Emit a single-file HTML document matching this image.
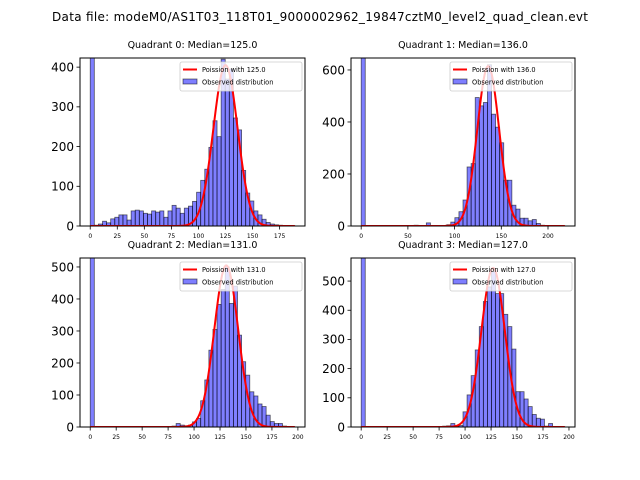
<!DOCTYPE html>
<html><head><meta charset="utf-8"><style>
body{margin:0;background:#fff;}
svg{display:block;font-family:"DejaVu Sans","Liberation Sans",sans-serif;}
</style></head><body>
<svg id="fig" width="640" height="480" viewBox="0 0 640 480">
<rect width="640" height="480" fill="#fff"/>
<text x="320" y="21" font-size="12" text-anchor="middle" textLength="536">Data file: modeM0/AS1T03_118T01_9000002962_19847cztM0_level2_quad_clean.evt</text>
</svg>
<script>
const medians = [125.0, 136.0, 131.0, 127.0];
const dataMax = [189, 218, 197, 196];
const curvePeak = [405, 615, 505, 545];
const counts0 = [1000,2,5,12,8,18,22,28,28,15,38,40,38,32,30,38,35,38,22,38,52,45,32,45,50,62,85,115,143,198,265,225,420,370,395,272,242,140,83,63,38,28,17,9,5,3,2,1,1,1];
const counts1 = [1000,0,0,0,0,0,0,0,0,0,0,0,0,3,0,0,12,0,0,0,0,5,15,32,55,100,227,240,494,462,475,620,430,380,320,176,176,80,65,30,30,20,25,10,3,2,1,1,0,1];
const counts2 = [1000,0,0,0,0,0,0,0,0,0,0,0,0,0,0,0,0,0,0,0,3,11,6,4,6,16,27,82,147,240,305,383,430,500,386,440,287,204,162,110,97,72,64,37,17,11,11,3,0,1];
const counts3 = [1000,0,0,0,0,0,0,0,0,0,0,0,0,0,0,0,0,2,0,0,3,4,12,3,5,52,110,176,264,344,430,480,532,457,457,386,344,267,121,121,96,70,43,30,27,3,12,2,0,1];
const allCounts = [counts0, counts1, counts2, counts3];
const yTicks0 = [0,100,200,300,400];
const yTicks1 = [0,200,400,600];
const yTicks2 = [0,100,200,300,400,500];
const yTicks3 = [0,100,200,300,400,500];
const allYTicks = [yTicks0, yTicks1, yTicks2, yTicks3];
const xTicks0 = [0,25,50,75,100,125,150,175];
const xTicks1 = [0,50,100,150,200];
const xTicks2 = [0,25,50,75,100,125,150,175,200];
const xTicks3 = [0,25,50,75,100,125,150,175,200];
const allXTicks = [xTicks0, xTicks1, xTicks2, xTicks3];
const yMax = [423, 646, 528, 579];

const NS = 'http://www.w3.org/2000/svg';
const svg = document.getElementById('fig');
function mk(tag, attrs, parent){const e=document.createElementNS(NS,tag);for(const k in attrs)e.setAttribute(k,attrs[k]);(parent||svg).appendChild(e);return e;}

const rects = [[80,58,305,226],[351,58,575,226],[80,258,305,427],[351,258,575,427]];
for(let q=0;q<4;q++){
  const [L,T,R,B]=rects[q];
  const mx=dataMax[q], xmin=-0.05*mx, xmax=mx*1.05;
  const sx=v=>L+(v-xmin)/(xmax-xmin)*(R-L);
  const sy=v=>B-v/yMax[q]*(B-T);
  const g=mk('g',{});
  
  
  const cp=mk('clipPath',{id:'cp'+q},g);
  mk('rect',{x:L,y:T,width:R-L,height:B-T},cp);
  const t=mk('text',{x:(L+R)/2,y:T-10,'font-size':9.5,'text-anchor':'middle'},g);
  t.textContent='Quadrant '+q+': Median='+medians[q].toFixed(1);
  
  
  const bars=mk('g',{'clip-path':'url(#cp'+q+')'},g);
  const c=allCounts[q], n=c.length, bw=mx/n;
  for(let k=0;k<n;k++){
    if(c[k]<=0)continue;
    const x0=sx(k*bw), x1=sx((k+1)*bw), y=sy(c[k]);
    const r=mk('rect',{x:x0,y:y,width:x1-x0,height:B-y,fill:'rgba(0,0,255,0.5)',stroke:'rgba(0,0,0,0.6)','stroke-width':0.8},bars);
    
    
  }
  const lam=medians[q];let d='';
  for(let x=0;x<=mx;x+=0.5){
    const v=curvePeak[q]*Math.exp(-(x-lam)*(x-lam)/(2*lam));
    d+=(x===0?'M':'L')+sx(x).toFixed(2)+','+sy(v).toFixed(2);
  }
  const p=mk('path',{d:d,fill:'none',stroke:'#ff0000','stroke-width':2},bars);
  
  
  const fr=mk('rect',{x:L,y:T,width:R-L,height:B-T,fill:'none',stroke:'#000','stroke-width':1},g);
  
  
  allYTicks[q].forEach(v=>{
    const y=sy(v);
    mk('line',{x1:L-3.5,x2:L,y1:y,y2:y,stroke:'#000','stroke-width':0.8},g);
    const tl=mk('text',{x:L-6,y:y+4.3,'font-size':12,'text-anchor':'end'},g);
    tl.textContent=v;
    
    
  });
  allXTicks[q].forEach(v=>{
    const x=sx(v);
    mk('line',{x1:x,x2:x,y1:B,y2:B+3.5,stroke:'#000','stroke-width':0.8},g);
    const tl=mk('text',{x:x,y:B+12,'font-size':6,'text-anchor':'middle'},g);
    tl.textContent=v;
    
    
  });
  const lg=mk('g',{},g);
  
  
  mk('rect',{x:R-125,y:T+4,width:122,height:29,fill:'rgba(255,255,255,0.8)',stroke:'#ccc','stroke-width':0.8,rx:2},lg);
  mk('line',{x1:R-122,x2:R-108,y1:T+11.5,y2:T+11.5,stroke:'#ff0000','stroke-width':2},lg);
  const l1=mk('text',{x:R-103,y:T+14,'font-size':6.6},lg);
  l1.textContent='Poission with '+medians[q].toFixed(1);
  
  
  mk('rect',{x:R-122,y:T+21,width:14,height:5,fill:'rgba(0,0,255,0.5)',stroke:'rgba(0,0,0,0.6)','stroke-width':0.8},lg);
  const l2=mk('text',{x:R-103,y:T+26.5,'font-size':6.6},lg);
  l2.textContent='Observed distribution';
  
  
}
</script>
</body></html>
